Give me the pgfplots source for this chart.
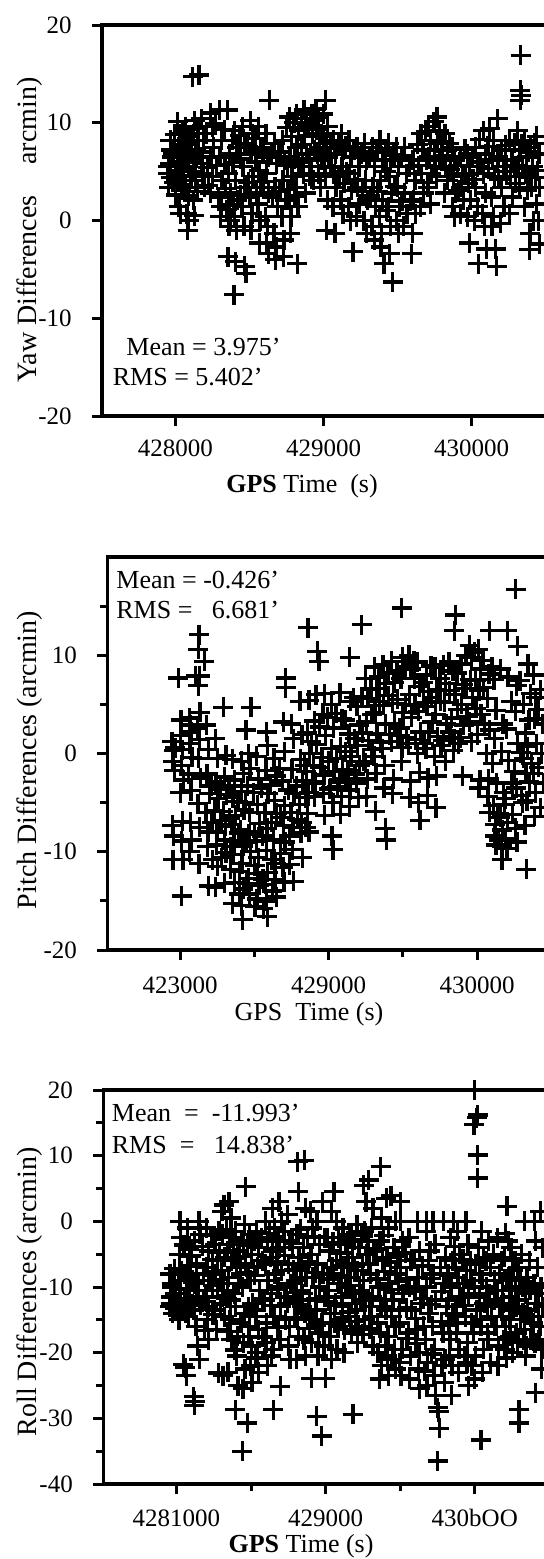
\documentclass[border=0pt]{standalone}
\usepackage{fontspec}
\setmainfont{Liberation Serif}
\usepackage{pgfplots}
\pgfplotsset{compat=1.18}
\newcommand{\fsT}{\fontsize{12.5pt}{15pt}\selectfont}
\newcommand{\fsL}{\fontsize{13pt}{16pt}\selectfont}
\newcommand{\fsY}{\fontsize{14pt}{17pt}\selectfont}
\pgfplotsset{
  gps/.style={
    scale only axis, anchor=north west,
    axis line style={line width=1.7pt},
    tick style={line width=1.5pt, black},
    tick align=outside, tick pos=left,
    major tick length=5pt, minor tick length=3.5pt,
    tick label style={font=\fsT},
    scaled x ticks=false, scaled y ticks=false,
    xticklabel style={anchor=center},
    yticklabel style={anchor=east, inner sep=0pt, xshift=-10pt},
    clip=false,
    /pgf/number format/assume math mode=true,
  },
  pts/.style={only marks, mark=+, mark size=5pt, mark options={line width=1.65pt}, black},
}
\begin{document}
\begin{tikzpicture}
% ---------------- Yaw ----------------
\begin{axis}[gps, at={(51pt,-12.5pt)}, width=222.5pt, height=195.5pt,
  xmin=427504, xmax=430509, ymin=-20, ymax=20,
  ytick={-20,-10,0,10,20}, yticklabels={-20,-10,0,10,20},
  xtick={428000,429000,430000}, xticklabels={428000,429000,430000},
  xticklabel style={yshift=-11pt}]
\addplot[pts] coordinates {
(427948,4.8)(427962,5.8)(427955,3.4)(427966,8.2)(427971,7.2)(427952,5.5)(427968,4.4)(427975,6.5)
(428014,10.1)(428031,8.9)(428022,7.5)(428036,6.5)(428018,5.1)(428029,4.1)(428040,3.1)(428024,1.4)(428033,0.7)(428012,6.0)(428038,4.6)
(428069,9.6)(428084,8.2)(428073,6.5)(428088,5.5)(428066,3.4)(428079,0.7)(428090,0.0)(428082,-1.0)(428071,7.0)(428086,2.5)
(428116,14.7)(428131,10.2)(428122,8.9)(428138,7.2)(428125,6.2)(428135,4.1)(428120,2.1)(428133,5.0)(428127,0.5)
(428175,10.4)(428190,8.2)(428178,6.5)(428186,4.8)(428194,3.4)(428160,14.9)(428180,5.8)
(428238,11.0)(428252,9.6)(428241,6.5)(428249,4.5)(428236,2.8)(428255,7.5)
(428296,11.3)(428311,8.2)(428300,6.5)(428315,4.1)(428293,2.4)(428307,1.4)(428302,0.4)
(428352,11.3)(428366,6.8)(428357,4.8)(428371,2.8)(428349,1.1)(428362,-0.6)(428355,-3.7)(428368,0.0)
(428401,9.2)(428415,7.5)(428405,4.1)(428419,2.1)(428398,0.4)(428412,-1.0)(428404,-4.2)(428396,-7.6)
(428452,9.6)(428466,7.9)(428456,5.5)(428470,3.4)(428449,1.4)(428463,-0.6)(428468,-4.7)(428476,-5.4)
(428506,10.2)(428520,8.9)(428510,6.8)(428524,4.5)(428503,2.4)(428517,0.7)(428511,-1.0)
(428560,9.6)(428574,7.5)(428564,5.1)(428578,3.4)(428557,1.7)(428571,0.0)(428566,-2.3)
(428611,8.9)(428625,6.5)(428615,4.8)(428629,2.8)(428608,0.4)(428622,-0.6)(428617,-2.3)(428626,-3.4)(428633,12.3)
(428669,7.9)(428683,5.8)(428673,3.4)(428687,1.4)(428666,-1.3)(428680,-2.7)(428675,-4.0)
(428723,8.2)(428737,6.2)(428727,4.1)(428741,2.1)(428720,0.4)(428734,-2.0)(428729,-3.7)
(428770,10.6)(428784,8.6)(428774,6.5)(428788,4.5)(428767,2.1)(428781,0.4)(428776,-1.3)
(428817,10.9)(428831,9.2)(428821,7.5)(428835,5.5)(428814,3.4)(428828,1.4)(428822,-4.4)
(428868,11.3)(428882,9.9)(428872,8.6)(428886,6.8)(428865,4.8)(428879,2.8)
(428922,10.9)(428936,10.2)(428926,8.9)(428940,7.2)(428919,5.5)(428933,4.1)
(428968,10.6)(428982,8.9)(428972,7.5)(428986,6.2)(428965,4.8)(428979,3.4)
(429015,12.3)(429029,9.6)(429019,7.9)(429033,6.5)(429012,4.5)(429026,2.1)(429020,-1.0)
(429067,8.2)(429081,6.8)(429071,4.8)(429085,3.4)(429064,1.4)(429078,-1.3)
(429120,8.9)(429134,7.2)(429124,5.5)(429138,3.8)(429117,2.1)(429131,0.7)
(429172,8.2)(429186,6.5)(429176,4.8)(429190,3.1)(429169,1.4)(429183,0.0)
(429225,7.5)(429239,5.5)(429229,3.4)(429243,1.7)(429222,0.4)(429198,-3.2)
(429277,7.9)(429291,6.2)(429281,4.1)(429295,2.1)(429274,0.0)(429288,-1.3)
(429331,7.5)(429345,5.5)(429335,3.4)(429349,1.4)(429328,-0.6)(429342,-2.0)
(429382,8.2)(429396,6.2)(429386,4.1)(429400,2.1)(429379,0.4)(429393,-1.3)(429388,-2.7)(429408,-4.4)
(429440,7.9)(429454,6.2)(429444,4.5)(429458,2.8)(429437,1.4)(429451,-0.6)(429446,-3.4)(429467,-6.3)
(429494,7.5)(429508,5.5)(429498,3.4)(429512,1.4)(429491,0.0)(429505,-1.3)
(429545,7.5)(429559,4.8)(429549,2.8)(429563,0.7)(429542,-0.6)(429595,-3.4)
(429604,6.2)(429618,4.1)(429608,2.1)(429622,0.7)(429601,-1.3)
(429658,8.9)(429672,7.2)(429662,4.8)(429676,2.8)(429655,1.4)
(429709,9.6)(429723,8.2)(429713,6.5)(429727,4.8)(429706,3.4)(429720,1.7)
(429767,10.6)(429781,9.2)(429771,7.9)(429785,6.2)(429764,4.5)
(429821,8.9)(429835,7.2)(429825,5.5)(429839,4.1)(429818,2.8)
(429872,7.5)(429886,6.2)(429876,4.5)(429890,2.8)(429869,1.4)(429883,0.4)
(429926,6.5)(429940,4.8)(429930,3.4)(429944,2.1)(429923,0.7)
(429973,6.8)(429987,5.5)(429977,3.8)(429991,2.1)(429970,0.4)(429984,-2.3)
(430024,7.5)(430038,5.5)(430028,3.4)(430042,1.4)(430021,0.0)(430045,-4.4)
(430078,9.2)(430092,6.8)(430082,4.8)(430096,2.8)(430075,0.7)(430089,-0.6)(430100,-2.9)
(430121,9.4)(430150,8.2)(430140,6.2)(430154,4.5)(430133,2.4)(430147,0.4)(430138,-0.6)(430162,-2.9)(430170,-4.7)(430175,10.4)
(430200,7.2)(430214,5.5)(430204,3.4)(430218,1.4)(430197,-0.3)
(430258,8.2)(430272,6.2)(430262,4.5)(430276,2.4)(430255,0.7)
(430331,16.9)(430328,13.3)(430334,12.8)(430330,12.3)(430312,9.2)(430326,7.2)(430316,5.5)(430323,3.4)
(430358,8.2)(430372,6.5)(430362,4.8)(430376,3.1)(430355,1.4)
(430398,7.5)(430412,5.5)(430402,3.4)(430416,0.0)(430395,-1.3)(430390,-3.0)
(430440,8.6)(430454,6.8)(430444,5.1)(430458,3.4)(430437,1.7)(430451,0.0)(430460,-2.4)
(427985,6.9)(427990,3.9)(427995,8.8)(428002,2.6)(428050,9.3)(428055,5.3)(428058,7.8)(428052,3.7)(428100,8.6)(428104,4.5)(428108,6.8)(428152,9.4)(428156,7.0)(428148,3.0)
(428212,8.9)(428218,5.4)(428222,3.6)(428270,9.9)(428275,5.6)(428330,9.3)(428334,5.7)(428338,3.3)(428385,8.2)(428388,5.9)(428390,1.6)(428435,8.7)(428440,6.3)(428437,2.6)
(428488,7.6)(428492,3.9)(428540,8.4)(428544,6.0)(428546,2.8)(428592,7.2)(428596,4.0)(428650,6.8)(428655,2.4)(428700,7.0)(428705,3.0)(428752,9.5)(428757,5.6)(428760,3.2)
(428800,10.0)(428804,6.3)(428808,2.5)(428850,10.4)(428853,7.8)(428857,5.9)(428900,9.6)(428904,6.3)(428908,4.6)(428950,11.4)(428955,9.3)(428958,6.8)(428998,10.9)(429002,8.6)(429005,5.5)
(429045,7.5)(429050,5.4)(429100,7.9)(429104,4.5)(429150,7.6)(429155,5.0)(429205,7.2)(429210,4.2)(429258,6.8)(429262,3.0)(429310,6.6)(429315,2.5)(429360,7.0)(429365,3.0)
(429418,7.3)(429422,5.0)(429425,1.0)(429475,6.7)(429480,3.5)(429525,6.6)(429530,2.0)(429580,5.5)(429585,2.0)(429635,7.8)(429640,5.6)(429690,9.1)(429695,6.2)(429700,3.9)
(429745,10.1)(429748,7.2)(429752,5.4)(429800,8.1)(429805,6.6)(429850,7.9)(429855,5.2)(429905,5.6)(429910,3.1)(429955,7.3)(429960,4.7)(430005,6.5)(430010,4.2)
(430055,8.3)(430060,6.0)(430110,7.6)(430115,5.3)(430178,6.5)(430182,4.2)(430230,7.7)(430235,5.0)(430288,7.9)(430292,5.6)(430296,3.8)(430340,7.8)(430345,5.3)(430385,7.0)(430388,4.6)(430425,7.9)(430430,4.4)
};
\end{axis}
% ---------------- Pitch ----------------
\begin{axis}[gps, at={(53.65pt,-278.5pt)}, width=219.85pt, height=196.5pt,
  xmin=427510, xmax=430471, ymin=-20, ymax=20,
  ytick={-20,-10,0,10}, yticklabels={-20,-10,0,10},
  minor ytick={-15,-5,5,15},
  xtick={428000,429000,430000}, xticklabels={423000,429000,430000},
  minor xtick={428500,429500},
  xticklabel style={yshift=-12.5pt}]
\addplot[pts] coordinates {
(427945,1.2)(427958,0.3)(427950,-0.8)(427962,-1.7)(427948,-7.3)(427956,-8.4)(427952,-10.8)(427989,7.7)(427966,0.6)
(428004,1.8)(428018,0.4)(428008,-1.2)(428022,-2.7)(428001,-4.0)(428015,-6.9)(428010,-8.9)(428012,-14.5)(428020,-10.8)(428006,3.4)
(428062,3.6)(428076,2.2)(428066,1.0)(428080,-0.4)(428059,-2.1)(428073,-3.8)(428068,-7.0)(428078,-8.8)(428064,-10.0)(428105,7.9)(428071,2.9)
(428128,12.1)(428124,10.6)(428163,9.4)(428132,7.9)(428122,6.9)(428135,4.2)(428118,2.6)(428130,1.4)(428126,-0.5)(428138,-2.5)(428120,-5.1)(428133,-7.5)(428127,-11.2)
(428178,2.9)(428192,0.4)(428182,-2.1)(428196,-4.1)(428175,-6.0)(428189,-8.0)(428184,-9.5)(428193,-13.5)
(428237,1.5)(428251,-0.5)(428241,-2.9)(428255,-4.6)(428234,-5.8)(428248,-8.0)(428243,-9.3)(428252,-11.5)(428239,-13.6)
(428291,4.7)(428309,-0.2)(428299,-2.4)(428313,-4.2)(428292,-5.9)(428306,-7.4)(428301,-8.8)(428310,-10.1)(428297,-13.2)
(428353,-0.6)(428367,-2.7)(428357,-4.5)(428371,-6.3)(428350,-7.2)(428364,-8.9)(428359,-10.3)(428368,-13.1)(428355,-15.3)
(428412,-0.8)(428426,-2.0)(428416,-3.9)(428430,-5.7)(428409,-7.8)(428423,-9.4)(428418,-11.2)(428427,-13.8)(428414,-15.5)(428421,-16.9)
(428478,4.7)(428443,2.4)(428462,0.0)(428470,-1.5)(428455,-3.3)(428469,-6.0)(428464,-8.2)(428473,-10.0)(428460,-12.7)(428467,-14.3)
(428516,-0.3)(428530,-2.6)(428520,-5.2)(428534,-7.1)(428513,-8.9)(428527,-10.6)(428522,-12.2)(428531,-13.4)(428518,-14.8)
(428583,2.2)(428589,0.8)(428579,-1.7)(428593,-4.1)(428572,-6.0)(428586,-7.6)(428581,-9.9)(428590,-12.1)(428577,-13.3)(428584,-15.0)(428588,-16.6)
(428633,-0.5)(428647,-2.3)(428637,-4.8)(428651,-6.1)(428630,-8.8)(428644,-11.2)(428639,-12.8)(428648,-14.6)
(428711,7.7)(428711,6.7)(428695,3.2)(428705,0.2)(428688,-2.8)(428702,-5.3)(428697,-7.3)(428706,-9.0)(428693,-11.6)(428700,-13.1)
(428750,3.0)(428764,1.5)(428754,-1.6)(428768,-4.1)(428747,-6.0)(428761,-7.5)(428756,-9.8)(428765,-13.0)
(428808,5.3)(428822,1.9)(428812,-0.6)(428826,-2.8)(428805,-5.2)(428819,-7.0)(428814,-8.1)(428823,-10.6)
(428862,12.8)(428868,5.4)(428858,2.1)(428872,0.0)(428851,-1.8)(428865,-4.0)(428860,-6.1)(428869,-8.0)
(428924,10.4)(428915,6.0)(428905,3.3)(428919,0.9)(428898,-1.2)(428912,-2.9)(428907,-4.4)
(428935,9.4)(428973,6.1)(428963,4.0)(428977,1.8)(428956,-0.4)(428970,-2.2)(428965,-4.1)(428974,-6.3)
(429018,5.0)(429032,2.6)(429022,0.5)(429036,-1.8)(429015,-3.5)(429029,-5.0)(429024,-8.4)(429030,-9.8)
(429076,6.2)(429090,3.5)(429080,0.7)(429094,-1.6)(429073,-2.9)(429087,-4.4)(429082,-6.2)
(429142,9.8)(429148,5.3)(429138,2.0)(429152,-0.3)(429131,-1.7)(429145,-3.7)(429140,-5.4)
(429192,4.8)(429206,2.9)(429196,0.8)(429210,-1.2)(429189,-3.0)(429203,-4.5)(429224,13.1)
(429251,7.6)(429265,5.6)(429255,3.2)(429269,1.3)(429248,-1.0)(429262,-2.6)(429257,-4.4)
(429309,8.8)(429323,6.6)(429313,4.2)(429327,2.0)(429306,-0.3)(429320,-2.0)(429315,-5.9)
(429367,9.0)(429381,7.1)(429371,4.9)(429385,3.0)(429364,0.5)(429378,-1.2)(429373,-3.5)(429382,-7.6)(429388,-8.8)
(429426,9.4)(429440,7.2)(429430,5.1)(429444,3.0)(429423,1.2)(429437,-2.6)(429432,-4.1)
(429492,14.8)(429498,9.8)(429488,7.6)(429502,4.2)(429481,2.6)(429495,0.6)(429490,-0.8)
(429542,10.0)(429556,8.6)(429546,6.0)(429560,3.7)(429539,1.0)(429553,-2.8)(429548,-4.5)
(429600,9.3)(429614,6.8)(429604,4.3)(429618,2.2)(429597,0.0)(429611,-1.9)(429606,-5.0)(429615,-6.8)
(429659,8.0)(429673,6.3)(429663,4.8)(429677,2.2)(429656,0.5)(429670,-2.5)(429665,-4.3)
(429717,8.8)(429731,6.5)(429721,4.0)(429735,1.7)(429714,-0.3)(429728,-2.3)(429723,-5.5)
(429775,9.0)(429789,7.1)(429779,5.2)(429793,3.0)(429772,1.3)(429786,-0.8)
(429853,14.1)(429848,12.5)(429837,8.4)(429851,6.0)(429830,3.6)(429844,1.5)(429839,0.3)
(429892,9.1)(429906,7.0)(429896,5.0)(429910,2.9)(429889,1.6)(429903,-2.3)
(429950,11.0)(429964,9.8)(429954,7.5)(429968,5.7)(429947,3.2)(429961,1.2)
(430008,10.6)(430022,8.6)(430012,6.4)(430026,4.0)(430005,1.9)(430019,-2.7)(430014,-3.5)
(430086,12.5)(430081,8.1)(430071,5.6)(430085,2.4)(430064,0.0)(430078,-2.6)(430073,-4.4)(430082,-6.0)
(430113,7.5)(430127,4.4)(430117,1.5)(430131,-3.0)(430110,-5.3)(430124,-7.2)(430121,-8.4)(430128,-9.3)
(430160,8.6)(430174,3.0)(430164,0.2)(430178,-4.0)(430157,-6.5)(430171,-7.8)(430166,-9.4)(430168,-10.8)
(430203,12.5)(430209,7.8)(430199,2.5)(430213,-0.7)(430192,-4.6)(430206,-7.0)(430201,-9.7)
(430261,16.7)(430267,6.9)(430257,4.3)(430271,1.0)(430250,-1.8)(430264,-3.5)(430259,-7.6)(430268,-9.0)(430273,10.9)
(430311,5.0)(430325,2.1)(430315,-0.5)(430329,-2.0)(430308,-5.0)(430322,-7.3)(430331,-11.8)
(430343,9.1)(430349,3.4)(430339,0.7)(430353,-2.9)(430336,-4.8)
(430381,8.0)(430395,5.7)(430385,3.5)(430399,1.0)(430378,-2.0)(430392,-4.0)(430387,-6.4)
(430428,6.5)(430442,3.0)(430432,0.0)(430446,-3.0)(430425,-5.5)
(428210,-3.3)(428215,-7.0)(428220,-10.8)(428270,-3.6)(428275,-6.8)(428280,-10.6)(428330,-3.3)(428335,-6.6)(428340,-9.5)(428340,-11.8)(428390,-4.9)(428395,-8.1)(428398,-12.0)(428400,-14.3)
(428440,-5.0)(428445,-9.0)(428448,-13.2)(428495,-4.0)(428500,-8.0)(428503,-11.4)(428505,-15.6)(428550,-3.5)(428555,-8.4)(428558,-12.8)(428560,-15.8)(428610,-3.2)(428615,-7.0)(428620,-10.8)(428622,-14.0)
(428670,-1.5)(428675,-6.5)(428678,-10.2)(428730,-3.7)(428735,-8.4)(428738,-11.3)(428785,-3.3)(428790,-6.7)(428840,-1.2)(428845,-4.5)(428848,-7.5)(428885,1.2)(428890,-3.0)(428940,2.7)(428945,-1.4)
(428995,3.7)(429000,-0.8)(429005,-3.6)(429050,4.1)(429055,-0.5)(429058,-3.4)(429110,3.4)(429115,0.2)(429118,-2.6)(429170,5.7)(429175,1.5)(429178,-2.1)(429225,5.8)(429230,2.1)(429233,-0.8)
(429285,6.5)(429290,4.0)(429293,0.4)(429340,7.8)(429345,5.3)(429348,1.1)(429400,8.2)(429405,5.9)(429408,1.9)(429460,8.4)(429465,5.5)(429468,1.8)(429515,8.8)(429520,5.0)(429523,1.6)
(429575,9.4)(429580,7.6)(429583,4.9)(429586,1.4)(429635,7.2)(429640,5.2)(429643,1.0)(429690,8.9)(429695,5.7)(429698,3.2)(429750,7.6)(429755,5.3)(429758,0.8)(429810,9.3)(429815,6.4)(429818,2.2)
(429865,8.2)(429870,4.5)(429873,1.0)(429925,10.0)(429930,6.6)(429933,3.8)(429985,10.3)(429990,7.4)(429993,4.6)(430040,9.5)(430045,6.7)(430048,3.0)(430100,8.8)(430105,-1.0)
(430140,-6.1)(430145,-8.8)(430185,-5.2)(430190,-8.7)(430230,5.3)(430235,-3.0)(430238,-6.2)(430290,7.4)(430295,0.1)(430298,-4.3)(430360,6.1)(430365,-1.0)(430410,4.5)(430415,-1.4)
};
\end{axis}
% ---------------- Roll ----------------
\begin{axis}[gps, at={(51.6pt,-545pt)}, width=221.9pt, height=197pt,
  xmin=427509, xmax=430484, ymin=-40, ymax=20,
  ytick={-40,-30,-20,-10,0,10,20}, yticklabels={-40,-30,-20,-10,0,10,20},
  minor ytick={-35,-25,-15,-5,5,15},
  xtick={428000,429000,430000}, xticklabels={4281000,429000,430bOO},
  minor xtick={428500,429500},
  xticklabel style={yshift=-12pt}]
\addplot[pts] coordinates {
(427957,-8.0)(427971,-10.0)(427961,-12.5)(427975,-14.0)(427954,-13.0)(427968,-9.5)(427963,-11.5)
(428023,0.0)(428029,-2.5)(428019,-5.0)(428033,-7.5)(428012,-9.0)(428026,-11.0)(428021,-12.0)(428030,-13.5)(428017,-15.0)(428046,-21.8)
(428073,-1.0)(428087,-4.2)(428077,-6.8)(428091,-8.5)(428070,-10.3)(428084,-12.2)(428079,-14.5)(428060,-22.3)(428066,-23.5)
(428120,-3.0)(428134,-6.5)(428124,-9.5)(428138,-11.5)(428117,-13.5)(428131,-16.0)(428116,-26.7)(428122,-27.4)(428119,-28.0)
(428151,0.0)(428157,-2.0)(428147,-10.5)(428161,-12.8)(428140,-19.0)(428154,-21.0)
(428201,-1.0)(428215,-4.5)(428205,-7.0)(428219,-9.0)(428198,-11.5)(428212,-13.0)(428207,-15.0)(428216,-18.0)
(428259,-3.5)(428273,-6.0)(428263,-8.0)(428277,-10.5)(428256,-13.5)(428270,-16.5)(428280,-23.1)
(428305,1.5)(428319,2.5)(428309,-2.0)(428323,-5.5)(428302,-7.5)(428316,-9.5)(428311,-11.5)(428320,-14.5)(428313,-23.5)
(428352,3.0)(428366,0.5)(428356,-3.5)(428370,-6.0)(428349,-8.5)(428363,-12.0)(428358,-15.0)(428367,-18.0)(428345,-23.0)
(428398,-1.5)(428412,-4.5)(428402,-7.0)(428416,-9.5)(428395,-13.0)(428409,-17.5)(428404,-20.5)(428413,-25.0)(428394,-28.7)
(428464,5.3)(428458,-0.5)(428448,-3.0)(428462,-6.5)(428441,-10.0)(428455,-14.0)(428450,-18.5)(428459,-22.5)(428446,-25.5)(428441,-35.0)
(428491,-2.0)(428505,-5.0)(428495,-9.0)(428509,-12.5)(428488,-16.0)(428502,-19.0)(428497,-22.0)(428506,-24.5)(428476,-30.7)
(428537,-1.5)(428551,-4.0)(428541,-7.0)(428555,-10.5)(428534,-13.5)(428548,-16.5)(428543,-20.0)(428552,-23.0)
(428595,0.0)(428609,-3.0)(428599,-6.5)(428613,-9.0)(428592,-12.0)(428606,-15.5)(428601,-18.5)(428610,-22.0)
(428642,2.0)(428656,-1.0)(428646,-4.5)(428660,-8.0)(428639,-11.0)(428653,-14.5)(428648,-19.5)(428650,-28.7)
(428688,3.0)(428702,0.0)(428692,-4.0)(428706,-7.5)(428685,-10.0)(428699,-13.0)(428694,-18.0)(428696,-25.1)
(428746,1.0)(428760,-3.0)(428750,-6.5)(428764,-9.5)(428743,-12.5)(428757,-16.0)(428752,-19.0)(428761,-21.0)
(428812,9.1)(428818,4.5)(428808,-2.0)(428822,-5.5)(428801,-9.0)(428815,-12.0)(428810,-15.0)(428819,-17.5)(428806,-21.0)
(428858,9.3)(428864,2.0)(428854,-4.0)(428868,-8.5)(428847,-11.0)(428861,-14.0)(428856,-18.0)(428865,-20.5)
(428897,1.5)(428911,-1.0)(428901,-5.0)(428915,-8.5)(428894,-12.0)(428908,-15.0)(428903,-18.5)(428905,-23.9)
(428943,0.0)(428957,-3.5)(428947,-6.5)(428961,-10.0)(428940,-13.5)(428954,-17.0)(428949,-20.5)(428940,-29.7)
(428978,3.0)(428992,-2.5)(428982,-8.0)(428996,-11.5)(428975,-15.5)(428989,-19.0)(428998,-23.9)(428974,-32.7)
(429056,4.5)(429038,1.5)(429028,-4.5)(429042,-7.0)(429021,-10.5)(429035,-14.0)(429030,-17.5)(429039,-21.0)
(429071,0.0)(429085,-2.5)(429075,-6.0)(429089,-9.5)(429068,-12.5)(429082,-16.0)(429077,-19.5)
(429117,-1.0)(429131,-3.5)(429121,-7.0)(429135,-10.0)(429114,-13.0)(429128,-16.5)(429123,-20.0)
(429164,-2.0)(429178,-5.5)(429168,-8.5)(429182,-11.0)(429161,-14.5)(429175,-17.0)(429183,-29.4)
(429210,-0.5)(429224,-4.0)(429214,-7.5)(429228,-10.5)(429207,-13.5)(429221,-16.0)(429216,-18.5)
(429256,5.5)(429270,3.0)(429260,-1.5)(429274,-5.0)(429253,-9.0)(429267,-12.0)(429262,-15.0)
(429288,6.3)(429317,2.0)(429307,-1.0)(429321,-4.5)(429300,-8.0)(429314,-11.5)(429309,-14.5)(429318,-19.0)
(429369,8.3)(429375,0.5)(429365,-3.0)(429379,-6.0)(429358,-10.0)(429372,-13.0)(429367,-17.0)(429376,-22.0)(429363,-24.0)
(429407,3.5)(429421,-1.0)(429411,-5.5)(429425,-9.5)(429404,-13.5)(429418,-17.5)(429413,-20.5)(429422,-23.5)
(429438,3.9)(429468,0.0)(429458,-4.0)(429472,-8.0)(429451,-12.0)(429465,-16.0)(429460,-19.5)(429469,-22.5)
(429500,0.0)(429500,3.0)(429514,-3.0)(429504,-7.0)(429518,-11.0)(429497,-15.5)(429511,-19.5)(429506,-23.5)
(429558,-2.5)(429572,-6.0)(429562,-10.0)(429576,-13.5)(429555,-17.0)(429569,-20.5)(429564,-24.0)
(429616,0.0)(429630,-4.5)(429620,-8.5)(429634,-12.5)(429613,-16.5)(429627,-20.0)(429622,-22.5)(429631,-25.5)
(429674,-1.5)(429676,0.0)(429688,-6.0)(429678,-10.0)(429692,-14.0)(429671,-18.0)(429685,-21.5)(429680,-25.0)
(429720,0.0)(429734,-3.5)(429724,-8.0)(429738,-12.0)(429717,-16.0)(429731,-19.5)(429726,-23.5)(429735,-26.5)
(429752,-28.4)(429758,-29.0)(429763,-31.5)(429752,-36.5)
(429790,0.0)(429804,-5.5)(429794,-9.5)(429808,-13.0)(429787,-17.0)(429801,-21.0)(429796,-24.5)
(429855,0.0)(429836,-2.5)(429850,-6.0)(429840,-10.0)(429854,-14.0)(429833,-18.0)(429847,-22.0)(429842,-26.5)
(429883,-1.5)(429897,-5.0)(429887,-8.5)(429901,-11.5)(429880,-15.5)(429894,-19.5)(429889,-23.0)
(429941,0.0)(429955,-3.5)(429945,-7.5)(429959,-11.0)(429938,-14.5)(429952,-18.5)(429947,-21.5)(429956,-25.0)
(430000,20.0)(429995,14.7)(430006,-6.5)(429996,-10.0)(430010,-13.5)(429989,-17.0)(430003,-20.5)(429998,-24.0)
(430019,16.2)(430012,15.8)(430019,10.1)(430019,6.6)
(430045,-1.5)(430059,-5.5)(430049,-9.0)(430063,-12.5)(430042,-16.0)(430056,-19.5)(430051,-23.0)(430042,-33.3)
(430092,-3.0)(430106,-7.0)(430096,-11.0)(430110,-14.5)(430089,-18.0)(430103,-21.5)
(430150,-2.5)(430164,-8.0)(430154,-10.5)(430168,-13.0)(430147,-16.0)(430161,-19.0)(430156,-22.0)
(430216,2.3)(430205,-1.8)(430200,-5.5)(430214,-9.0)(430193,-12.5)(430207,-16.0)(430202,-19.5)(430211,-20.8)
(430242,-4.0)(430256,-7.5)(430246,-10.0)(430260,-13.5)(430239,-17.5)(430253,-20.0)
(430289,-7.0)(430303,-9.0)(430293,-12.0)(430307,-15.0)(430286,-18.5)(430297,-28.7)(430297,-30.7)
(430335,0.0)(430349,-8.5)(430339,-11.0)(430353,-13.5)(430332,-16.5)(430346,-19.0)(430341,-20.5)
(430401,0.0)(430408,-3.0)(430397,-9.5)(430411,-12.5)(430390,-15.5)(430404,-18.5)(430408,-26.1)
(430440,1.5)(430454,-4.0)(430444,-10.0)(430458,-13.0)(430437,-16.0)(430451,-19.5)(430446,-22.5)
(427985,-7.2)(427990,-11.0)(427993,-13.2)(428050,-3.6)(428055,-8.0)(428058,-11.8)(428061,-14.0)(428100,-5.3)(428105,-9.0)(428108,-12.6)(428175,-3.8)(428180,-8.0)(428183,-12.2)(428186,-16.6)
(428235,-2.2)(428240,-5.8)(428243,-9.8)(428246,-14.2)(428285,-1.5)(428290,-4.7)(428293,-8.9)(428296,-12.6)(428335,-1.2)(428340,-4.5)(428343,-10.5)(428346,-16.8)(428380,-2.5)(428385,-5.6)(428388,-11.0)(428391,-19.6)
(428425,-5.4)(428430,-8.0)(428433,-15.5)(428475,-3.6)(428480,-7.8)(428483,-13.0)(428486,-17.5)(428520,-3.0)(428525,-8.2)(428528,-14.5)(428531,-20.8)(428570,-2.5)(428575,-6.0)(428578,-11.8)(428581,-17.6)
(428625,-1.8)(428630,-5.5)(428633,-12.8)(428636,-20.5)(428670,-2.4)(428675,-6.2)(428678,-10.3)(428681,-16.2)(428720,-1.5)(428725,-5.2)(428728,-11.5)(428731,-15.0)(428780,-3.4)(428785,-7.4)(428788,-10.8)(428791,-14.6)
(428830,-1.2)(428835,-6.8)(428838,-10.6)(428841,-13.0)(428880,-2.5)(428885,-6.2)(428888,-13.6)(428891,-16.3)(428925,-2.3)(428930,-7.8)(428933,-11.8)(428936,-15.8)(429010,-2.5)(429015,-8.8)(429018,-12.2)
(429050,-3.2)(429055,-8.0)(429058,-12.8)(429061,-15.5)(429100,-4.8)(429105,-8.3)(429108,-11.5)(429111,-15.0)(429145,-3.0)(429150,-6.5)(429153,-9.8)(429156,-13.8)(429190,-2.8)(429195,-6.8)(429198,-12.5)(429201,-15.3)
(429240,-2.2)(429245,-6.4)(429248,-11.0)(429251,-17.2)(429285,-3.0)(429290,-6.5)(429293,-13.0)(429296,-16.4)(429340,-4.2)(429345,-8.8)(429348,-15.5)(429351,-20.0)(429390,-2.2)(429395,-7.6)(429398,-12.0)(429401,-19.0)
(429435,-6.2)(429440,-10.4)(429443,-14.5)(429446,-21.0)(429485,-5.3)(429490,-9.2)(429493,-13.5)(429496,-21.5)(429535,-4.8)(429540,-8.8)(429543,-13.2)(429546,-17.8)(429595,-5.8)(429600,-10.6)(429603,-14.8)(429606,-18.6)
(429650,-6.8)(429655,-11.8)(429658,-16.0)(429661,-22.8)(429700,-4.5)(429705,-8.7)(429708,-12.7)(429711,-20.2)(429770,-7.0)(429775,-10.7)(429778,-15.3)(429781,-22.0)(429820,-8.0)(429825,-12.0)(429828,-15.8)(429831,-20.5)
(429865,-3.8)(429870,-7.0)(429873,-13.0)(429876,-17.0)(429920,-5.8)(429925,-9.5)(429928,-12.8)(429931,-20.5)(429970,-6.0)(429975,-9.0)(429978,-15.5)(429981,-22.0)(430025,-4.0)(430030,-8.0)(430033,-11.5)(430036,-15.0)
(430075,-6.0)(430080,-10.0)(430083,-13.0)(430086,-17.0)(430125,-5.0)(430130,-9.0)(430133,-12.0)(430136,-16.0)(430180,-6.0)(430185,-10.5)(430188,-14.5)(430191,-18.0)(430225,-3.0)(430230,-8.5)(430233,-11.5)(430236,-15.0)
(430270,-6.0)(430275,-10.5)(430278,-13.0)(430281,-17.0)(430315,-5.0)(430320,-10.0)(430323,-14.0)(430326,-18.0)(430365,-6.0)(430370,-10.5)(430373,-14.5)(430376,-18.0)(430420,-7.0)(430425,-11.0)(430428,-14.5)(430431,-18.0)
};
\end{axis}
% ---------------- labels ----------------
\node[rotate=90, font=\fsY] at (15pt,-115pt) {Yaw Differences\hspace{1.1em}arcmin)};
\node[font=\fsL] at (151pt,-243pt) {\textbf{GPS} Time\ \ (s)};
\node[font=\fsL, anchor=west, inner sep=0pt] at (63pt,-173.5pt) {Mean\ =\ 3.975’};
\node[font=\fsL, anchor=west, inner sep=0pt] at (56.25pt,-188.5pt) {RMS = 5.402’};

\node[rotate=90, font=\fsY] at (15pt,-380pt) {Pitch Differences (arcmin)};
\node[font=\fsL] at (154.5pt,-507pt) {GPS\ \ Time (s)};
\node[font=\fsL, anchor=west, inner sep=0pt] at (58pt,-290pt) {Mean = -0.426’};
\node[font=\fsL, anchor=west, inner sep=0pt] at (58pt,-305pt) {RMS =\ \ \ 6.681'};

\node[rotate=90, font=\fsY] at (15pt,-646pt) {Roll Differences (arcmin)};
\node[font=\fsL] at (150.5pt,-773pt) {\textbf{GPS} Time (s)};
\node[font=\fsL, anchor=west, inner sep=0pt] at (55.75pt,-556.5pt) {Mean\ \ =\ \ -11.993’};
\node[font=\fsL, anchor=west, inner sep=0pt] at (55.75pt,-572.5pt) {RMS\ \ =\ \ \ 14.838’};

\pgfresetboundingbox
\useasboundingbox (0,0) rectangle (271.5pt,-779.5pt);
\end{tikzpicture}
\end{document}
